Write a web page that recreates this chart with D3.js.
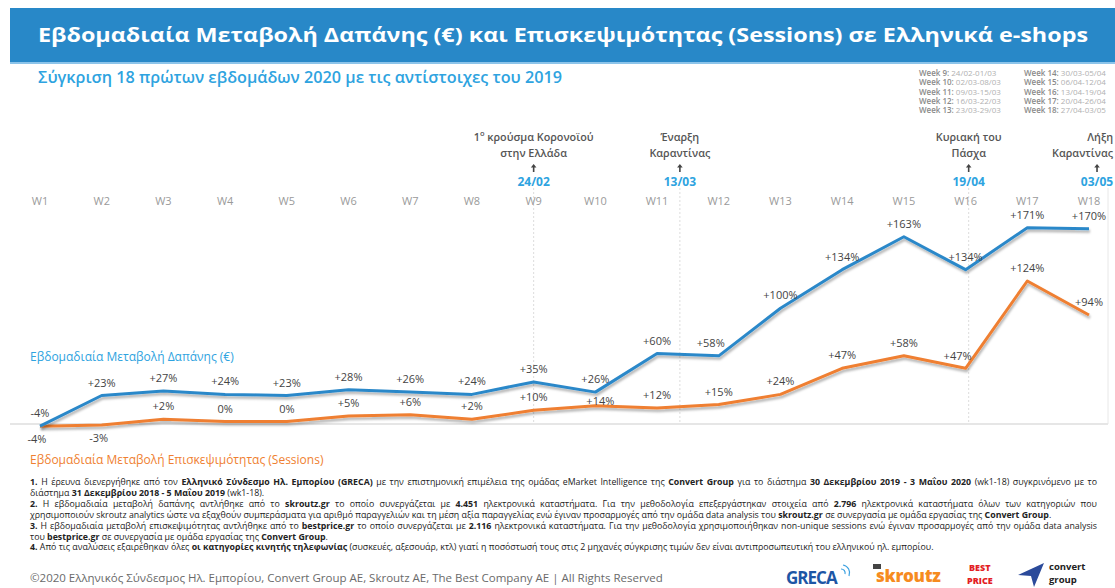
<!DOCTYPE html>
<html><head><meta charset="utf-8">
<script src="https://cdn.jsdelivr.net/npm/d3@7"></script>
<style>
html,body{margin:0;padding:0;background:#fff;}
svg{display:block;font-family:"Open Sans",sans-serif;}
</style></head>
<body>
<svg id="chart" width="1115" height="588"></svg>
<script>
// ---- data ----
const weeks = ["W1","W2","W3","W4","W5","W6","W7","W8","W9","W10","W11","W12","W13","W14","W15","W16","W17","W18"];
const spend = [-4,23,27,24,23,28,26,24,35,26,60,58,100,134,163,134,171,170];
const sessions = [-4,-3,2,0,0,5,6,2,10,14,12,15,24,47,58,47,124,94];
const annotWeek = [9, 11.37, 16.05, 18.13];
const annotText = [["1ᵒ κρούσμα Κορονοϊού","στην Ελλάδα"],["Έναρξη","Καραντίνας"],["Κυριακή του","Πάσχα"],["Λήξη","Καραντίνας"]];
const annotDate = ["24/02","13/03","19/04","03/05"];
const weekKeysL = ["Week 9:","Week 10:","Week 11:","Week 12:","Week 13:"];
const weekDatesL = ["24/02-01/03","02/03-08/03","09/03-15/03","16/03-22/03","23/03-29/03"];
const weekKeysR = ["Week 14:","Week 15:","Week 16:","Week 17:","Week 18:"];
const weekDatesR = ["30/03-05/04","06/04-12/04","13/04-19/04","20/04-26/04","27/04-03/05"];
const title = "Εβδομαδιαία Μεταβολή Δαπάνης (€) και Επισκεψιμότητας (Sessions) σε Ελληνικά e-shops";
const subtitle = "Σύγκριση 18 πρώτων εβδομάδων 2020 με τις αντίστοιχες του 2019";
const spendLabel = "Εβδομαδιαία Μεταβολή Δαπάνης (€)";
const sessLabel = "Εβδομαδιαία Μεταβολή Επισκεψιμότητας (Sessions)";
const footnotes = [
 [[1,"1."],[0," Η έρευνα διενεργήθηκε από τον "],[1,"Ελληνικό Σύνδεσμο Ηλ. Εμπορίου (GRECA)"],[0," με την επιστημονική επιμέλεια της ομάδας eMarket Intelligence της "],[1,"Convert Group"],[0," για το διάστημα "],[1,"30 Δεκεμβρίου 2019 - 3 Μαΐου 2020"],[0," (wk1-18) συγκρινόμενο με το"]],
 [[0,"διάστημα "],[1,"31 Δεκεμβρίου 2018 - 5 Μαΐου 2019"],[0," (wk1-18)."]],
 [[1,"2."],[0," Η εβδομαδιαία μεταβολή δαπάνης αντλήθηκε από το "],[1,"skroutz.gr"],[0," το οποίο συνεργάζεται με "],[1,"4.451"],[0," ηλεκτρονικά καταστήματα. Για την μεθοδολογία επεξεργάστηκαν στοιχεία από "],[1,"2.796"],[0," ηλεκτρονικά καταστήματα όλων των κατηγοριών που"]],
 [[0,"χρησιμοποιούν skroutz analytics ώστε να εξαχθούν συμπεράσματα για αριθμό παραγγελιών και τη μέση αξία παραγγελίας ενώ έγιναν προσαρμογές από την ομάδα data analysis του "],[1,"skroutz.gr"],[0," σε συνεργασία με ομάδα εργασίας της "],[1,"Convert Group"],[0,"."]],
 [[1,"3."],[0," Η εβδομαδιαία μεταβολή επισκεψιμότητας αντλήθηκε από το "],[1,"bestprice.gr"],[0," το οποίο συνεργάζεται με "],[1,"2.116"],[0," ηλεκτρονικά καταστήματα. Για την μεθοδολογία χρησιμοποιήθηκαν non-unique sessions ενώ έγιναν προσαρμογές από την ομάδα data analysis"]],
 [[0,"του "],[1,"bestprice.gr"],[0," σε συνεργασία με ομάδα εργασίας της "],[1,"Convert Group"],[0,"."]],
 [[1,"4."],[0," Από τις αναλύσεις εξαιρέθηκαν όλες "],[1,"οι κατηγορίες κινητής τηλεφωνίας"],[0," (συσκευές, αξεσουάρ, κτλ) γιατί η ποσόστωσή τους στις 2 μηχανές σύγκρισης τιμών δεν είναι αντιπροσωπευτική του ελληνικού ηλ. εμπορίου."]]
];
const footJustify = [true,false,true,false,true,false,false];
const copyright = "©2020 Ελληνικός Σύνδεσμος Ηλ. Εμπορίου, Convert Group AE, Skroutz AE, The Best Company AE | All Rights Reserved";

// ---- colours ----
const BLUE = "#2c88c9", ORANGE = "#ef7f31", LIGHTBLUE = "#2ea3e0";

const svg = d3.select("#chart");
const defs = svg.append("defs");
const f = defs.append("filter").attr("id","sh").attr("x","-5%").attr("y","-20%").attr("width","110%").attr("height","160%");
f.append("feDropShadow").attr("dx",1).attr("dy",2.5).attr("stdDeviation",1.2).attr("flood-color","#000").attr("flood-opacity",0.3);

// header
svg.append("rect").attr("x",10).attr("y",8).attr("width",1105).attr("height",54).attr("fill","#2888c8");
svg.append("rect").attr("x",10).attr("y",62).attr("width",1105).attr("height",2).attr("fill","#8cc4ea");
svg.append("text").attr("x",38).attr("y",42).attr("fill","#fff").attr("font-size",20).attr("font-weight",700)
  .attr("textLength",1050).attr("lengthAdjust","spacingAndGlyphs").text(title);
svg.append("text").attr("x",38).attr("y",83).attr("fill",LIGHTBLUE).attr("font-size",16).attr("font-weight",600)
  .attr("textLength",524).attr("lengthAdjust","spacingAndGlyphs").text(subtitle);

// week legend
function legendCol(x, keys, dates){
  keys.forEach((k,i)=>{
    const t = svg.append("text").attr("x",x).attr("y",76+i*9.3).attr("font-size",8);
    t.append("tspan").attr("fill","#8a8a8a").attr("font-weight",600).text(k+" ");
    t.append("tspan").attr("fill","#b0b0b0").text(dates[i]);
  });
}
legendCol(919, weekKeysL, weekDatesL);
legendCol(1024, weekKeysR, weekDatesR);

// scales
const x = d3.scaleLinear().domain([1,18]).range([40,1089]);
const y = d3.scaleLinear().domain([0,171]).range([421.6,227.7]);

// gridlines
annotWeek.slice(0,3).forEach(w=>{
  svg.append("line").attr("x1",x(w)).attr("x2",x(w)).attr("y1",188).attr("y2",424)
    .attr("stroke","#dcdcdc").attr("stroke-dasharray","2,2").attr("stroke-width",1);
});
svg.append("line").attr("x1",1108).attr("x2",1108).attr("y1",188).attr("y2",424).attr("stroke","#e8e8e8").attr("stroke-width",1);
svg.append("line").attr("x1",10).attr("x2",1108).attr("y1",y(0)+2.5).attr("y2",y(0)+2.5).attr("stroke","#e6e6e6").attr("stroke-width",2);

// week labels
svg.append("g").selectAll("text").data(weeks).join("text")
  .attr("x",(d,i)=>x(i+1)).attr("y",205).attr("text-anchor","middle")
  .attr("font-size",11).attr("fill","#9a9a9a").text(d=>d);

// annotations
annotWeek.forEach((w,i)=>{
  const last = i===annotWeek.length-1;
  const tx = last ? 1113 : x(w);
  const anchor = last ? "end" : "middle";
  annotText[i].forEach((line,j)=>{
    const t = svg.append("text").attr("x",tx).attr("y",141+j*16).attr("text-anchor",anchor)
      .attr("font-size",10.8).attr("font-weight",600).attr("fill","#555");
    if(line.startsWith("1ᵒ")){
      t.append("tspan").text("1");
      t.append("tspan").attr("font-size",7.5).attr("dy",-5).text("ο");
      t.append("tspan").attr("dy",5).text(line.slice(2));
    } else t.text(line);
  });
  const ax = x(w);
  svg.append("path").attr("d",`M${ax},164 l-2.8,3.6 h2 v4.4 h1.6 v-4.4 h2 z`).attr("fill","#444");
  svg.append("text").attr("x",ax).attr("y",186).attr("text-anchor","middle").attr("font-size",12)
    .attr("font-weight",700).attr("fill",LIGHTBLUE).text(annotDate[i]);
});

// lines
const line = d3.line().x((d,i)=>x(i+1)).y(d=>y(d));
svg.append("path").datum(sessions).attr("d",line).attr("fill","none").attr("stroke",ORANGE)
  .attr("stroke-width",3).attr("stroke-linejoin","round").attr("filter","url(#sh)");
svg.append("path").datum(spend).attr("d",line).attr("fill","none").attr("stroke",BLUE)
  .attr("stroke-width",3).attr("stroke-linejoin","round").attr("filter","url(#sh)");

const fmt = v => v>0 ? "+"+v+"%" : v+"%";
// value labels
const lab = svg.append("g").attr("font-size",11).attr("fill","#444").attr("text-anchor","middle");
spend.forEach((v,i)=>{
  const dx = (i===11)?-8:0;
  lab.append("text").attr("x",x(i+1)+dx).attr("y",y(v)-9).text(fmt(v));
});
sessions.forEach((v,i)=>{
  let dy = -9, dx = 0;
  if(i<2){ dy = 17; dx = -3; }
  if(i===9){ dy = -1; dx = 5; }
  if(i===15){ dx = -8; dy = -8; }
  lab.append("text").attr("x",x(i+1)+dx).attr("y",y(v)+dy).text(fmt(v));
});

// series labels
svg.append("text").attr("x",30).attr("y",361).attr("font-size",12).attr("fill",LIGHTBLUE).text(spendLabel);
svg.append("text").attr("x",30).attr("y",464).attr("font-size",12).attr("fill",ORANGE).text(sessLabel);

// footnotes (justified)
const fx0 = 30, fx1 = 1097;
footnotes.forEach((parts,i)=>{
  const t = svg.append("text").attr("x",fx0).attr("y",485+i*10.9).attr("font-size",8.8).attr("fill","#222");
  parts.forEach(p=>{ t.append("tspan").attr("font-weight",p[0]?700:400).text(p[1]); });
  const w = t.node().getComputedTextLength();
  if(footJustify[i]){
    const spaces = parts.map(p=>p[1]).join("").split(" ").length-1;
    if(spaces>0) t.attr("word-spacing",(fx1-fx0-w)/spaces);
  } else if (w > fx1-fx0) {
    t.attr("textLength",fx1-fx0).attr("lengthAdjust","spacingAndGlyphs");
  }
});

// footer
svg.append("text").attr("x",30).attr("y",582).attr("font-size",11.5).attr("fill","#6a6a6a").text(copyright);
// logos (approximate)
const lg = svg.append("g");
lg.append("text").attr("x",786).attr("y",584).attr("font-size",17).attr("font-weight",700).attr("fill","#1d56a5")
  .attr("letter-spacing",-1).text("GRECA");
lg.append("path").attr("d","M843,565 a8,8 0 0 1 6,11").attr("fill","none").attr("stroke","#3aa0e0").attr("stroke-width",1.2);
lg.append("path").attr("d","M841,569 a4,4 0 0 1 4,5").attr("fill","none").attr("stroke","#3aa0e0").attr("stroke-width",1.2);
lg.append("text").attr("x",876).attr("y",582).attr("font-size",17).attr("font-weight",800).attr("fill","#f68b1f")
  .attr("letter-spacing",-0.3).text("skroutz");
lg.append("rect").attr("x",873).attr("y",564).attr("width",8).attr("height",5).attr("fill","#444");
lg.append("text").attr("x",969).attr("y",571).attr("font-size",9).attr("font-weight",800).attr("fill","#e31e24").text("BEST");
lg.append("text").attr("x",967).attr("y",584).attr("font-size",9).attr("font-weight",800).attr("fill","#e31e24").text("PRICE");
lg.append("path").attr("d","M1044,563 L1018,575 L1031,576 L1034,587 Z").attr("fill","#2b4a9a");
lg.append("text").attr("x",1049).attr("y",570).attr("font-size",9.5).attr("font-weight",700).attr("fill","#222").text("convert");
lg.append("text").attr("x",1049).attr("y",583).attr("font-size",9.5).attr("font-weight",700).attr("fill","#222").text("group");
</script>
</body></html>
